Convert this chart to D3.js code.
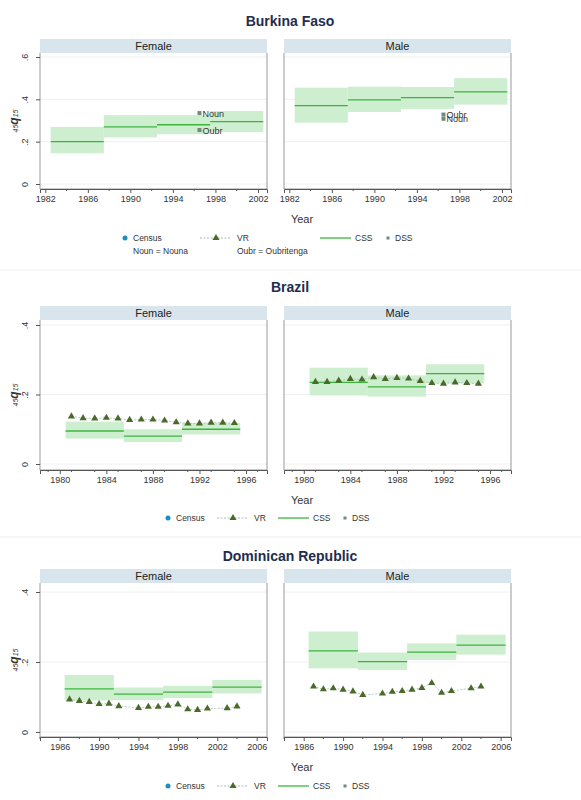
<!DOCTYPE html><html><head><meta charset="utf-8"><script src="https://cdn.jsdelivr.net/npm/d3@7"></script>
<style>body{margin:0;background:#fff;font-family:"Liberation Sans",Arial,sans-serif}</style></head><body><svg id="c" width="581" height="800"></svg>
<script>
// Burkina Faso
const bfCssF=[[1982.5,1987.5,0.2,0.145,0.27],[1987.5,1992.5,0.27,0.22,0.325],[1992.5,1997.5,0.28,0.235,0.325],[1997.5,2002.5,0.295,0.245,0.345]];
const bfCssM=[[1982.5,1987.5,0.37,0.29,0.455],[1987.5,1992.5,0.397,0.34,0.46],[1992.5,1997.5,0.408,0.355,0.458],[1997.5,2002.5,0.435,0.375,0.5]];
const bfDssF=[[1996.5,0.335,"Noun"],[1996.5,0.255,"Oubr"]];
const bfDssM=[[1996.5,0.328,"Oubr"],[1996.5,0.308,"Noun"]];
// Brazil
const brCssF=[[1980.5,1985.5,0.095,0.073,0.122],[1985.5,1990.5,0.08,0.063,0.1],[1990.5,1995.5,0.1,0.085,0.118]];
const brCssM=[[1980.5,1985.5,0.235,0.197,0.277],[1985.5,1990.5,0.222,0.194,0.255],[1990.5,1995.5,0.26,0.232,0.287]];
const brYears=[1981,1982,1983,1984,1985,1986,1987,1988,1989,1990,1991,1992,1993,1994,1995];
const brVrF=[.137,.132,.131,.133,.131,.127,.128,.128,.125,.12,.117,.117,.119,.119,.118];
const brVrM=[.236,.236,.24,.245,.243,.25,.245,.248,.246,.239,.233,.231,.235,.233,.231];
// Dominican Republic
const drCssF=[[1986.5,1991.5,0.123,0.09,0.163],[1991.5,1996.5,0.108,0.091,0.127],[1996.5,2001.5,0.114,0.097,0.132],[2001.5,2006.5,0.128,0.11,0.149]];
const drCssM=[[1986.5,1991.5,0.232,0.182,0.287],[1991.5,1996.5,0.201,0.177,0.227],[1996.5,2001.5,0.228,0.206,0.253],[2001.5,2006.5,0.248,0.221,0.278]];
const drYears=[1987,1988,1989,1990,1991,1992,1994,1995,1996,1997,1998,1999,2000,2001,2003,2004];
const drVrF=[.093,.089,.086,.08,.081,.074,.069,.072,.072,.075,.079,.065,.063,.067,.068,.073];
const drVrM=[.13,.122,.125,.121,.116,.106,.11,.115,.117,.121,.126,.14,.112,.117,.125,.13];

const svg=d3.select("#c");
const panels=[
 {title:"Burkina Faso",ty:21,top:53,y0:184,y1:57,ymax:0.6,yt:[0,.2,.4,.6],xd:[1981.5,2002.85],xt:[1982,1986,1990,1994,1998,2002],bot:189,
  F:{css:bfCssF,dss:bfDssF},M:{css:bfCssM,dss:bfDssM},yearY:219,legY:238,note:true},
 {title:"Brazil",ty:287,top:320,y0:464,y1:325,ymax:0.4,yt:[0,.2,.4],xd:[1978.3,1997.8],xt:[1980,1984,1988,1992,1996],bot:470,
  F:{css:brCssF,vy:brYears,vr:brVrF},M:{css:brCssM,vy:brYears,vr:brVrM},yearY:500,legY:518,sep:270},
 {title:"Dominican Republic",ty:556,top:583,y0:732,y1:592,ymax:0.4,yt:[0,.2,.4],xd:[1984,2007.05],xt:[1986,1990,1994,1998,2002,2006],bot:737,
  F:{css:drCssF,vy:drYears,vr:drVrF},M:{css:drCssM,vy:drYears,vr:drVrM},yearY:767,legY:786,sep:537}
];
const cols=[[40,267,"Female","F"],[284,511,"Male","M"]];
panels.forEach(p=>{
 if(p.sep) svg.append("line").attr("x1",0).attr("x2",581).attr("y1",p.sep).attr("y2",p.sep).attr("stroke","#eee");
 svg.append("text").attr("x",290).attr("y",p.ty+5).attr("text-anchor","middle").attr("font-weight","bold").attr("font-size",14).attr("fill","#1e2d4f").text(p.title);
 const y=d3.scaleLinear().domain([0,p.ymax]).range([p.y0,p.y1]);
 cols.forEach(([l,r,name,k])=>{
  const d=p[k];
  const x=d3.scaleLinear().domain(p.xd).range([l,r]);
  svg.append("rect").attr("x",l).attr("y",p.top-14).attr("width",r-l).attr("height",14).attr("fill","#d9e5ec");
  svg.append("text").attr("x",(l+r)/2).attr("y",p.top-3).attr("text-anchor","middle").attr("font-size",11).attr("fill","#222").text(name);
  p.yt.forEach(t=>svg.append("line").attr("x1",l).attr("x2",r).attr("y1",y(t)).attr("y2",y(t)).attr("stroke","#f0f0f0"));
  d.css.forEach(c=>{
   svg.append("rect").attr("x",x(c[0])).attr("width",x(c[1])-x(c[0])).attr("y",y(c[4])).attr("height",y(c[3])-y(c[4])).attr("fill","#cdeecf");
  });
  d.css.forEach(c=>svg.append("line").attr("x1",x(c[0])).attr("x2",x(c[1])).attr("y1",y(c[2])).attr("y2",y(c[2])).attr("stroke","#3cb43c").attr("stroke-width",1.3));
  if(d.vr){
   const pts=d.vy.map((v,i)=>[v,d.vr[i]]);
   svg.append("path").attr("d",d3.line().x(e=>x(e[0])).y(e=>y(e[1]))(pts)).attr("fill","none").attr("stroke","#aab8b8").attr("stroke-width",0.8).attr("stroke-dasharray","2,1.5");
   pts.forEach(e=>svg.append("path").attr("d",d3.symbol(d3.symbolTriangle,22)()).attr("transform",`translate(${x(e[0])},${y(e[1])})`).attr("fill","#4a6a2a"));
  }
  if(d.dss){
   d.dss.forEach(e=>{
    svg.append("rect").attr("x",x(e[0])-2).attr("y",y(e[1])-2).attr("width",4).attr("height",4).attr("fill","#6f8a80");
    svg.append("text").attr("x",x(e[0])+3).attr("y",y(e[1])+3.5).attr("font-size",9).attr("fill","#333").text(e[2]);
   });
  }
  svg.append("path").attr("d",`M${l},${p.top}V${p.bot}H${r}V${p.top}`).attr("fill","none").attr("stroke","#999");
  const ax=svg.append("g").attr("transform",`translate(0,${p.bot})`).call(d3.axisBottom(x).tickValues(p.xt).tickFormat(d3.format("d")).tickSize(4));
  const minor=d3.range(Math.ceil(p.xd[0]),p.xd[1],2).filter(v=>!p.xt.includes(v));
  minor.forEach(v=>svg.append("line").attr("x1",x(v)).attr("x2",x(v)).attr("y1",p.bot).attr("y2",p.bot+2).attr("stroke","#555"));
  ax.select(".domain").attr("stroke","#555");ax.selectAll("line").attr("stroke","#555");
  ax.selectAll("text").attr("font-size",9).attr("fill","#333").attr("font-family","Liberation Sans, Arial");
  if(k==="F"){
   const ay=svg.append("g").attr("transform",`translate(${l},0)`).call(d3.axisLeft(y).tickValues(p.yt).tickFormat(t=>t===0?"0":d3.format(".1f")(t).replace("0.",".")).tickSize(4));
   ay.select(".domain").remove();ay.selectAll("line").attr("stroke","#555");
   ay.selectAll("text").attr("font-size",9).attr("fill","#333").attr("font-family","Liberation Sans, Arial").attr("text-anchor","middle").attr("transform","translate(-3,0) rotate(-90)").attr("x",0).attr("dy","-0.3em").attr("y",-6);
   const cy=(p.top+p.bot)/2;
   const t=svg.append("text").attr("transform",`translate(18,${cy}) rotate(-90)`).attr("text-anchor","middle").attr("fill","#333");
   t.append("tspan").attr("font-size",7).attr("font-style","italic").text("45");
   t.append("tspan").attr("font-size",12).attr("font-style","italic").attr("font-weight","bold").text("q");
   t.append("tspan").attr("font-size",7).attr("font-style","italic").text("15");
  }
 });
 svg.append("text").attr("x",302).attr("y",p.yearY+4).attr("text-anchor","middle").attr("font-size",11).attr("fill","#333").text("Year");
 const ly=p.legY;
 const lx= p.note?[125,200,320,388]:[168,217,278,345];
 const g=svg.append("g").attr("font-size",8.5).attr("fill","#333");
 g.append("circle").attr("cx",lx[0]).attr("cy",ly).attr("r",2.5).attr("fill","#1a8fc0");
 g.append("text").attr("x",lx[0]+8).attr("y",ly+3).text("Census");
 g.append("line").attr("x1",lx[1]).attr("x2",lx[1]+31).attr("y1",ly).attr("y2",ly).attr("stroke","#aab8b8").attr("stroke-dasharray","2,1.5");
 g.append("path").attr("d",d3.symbol(d3.symbolTriangle,22)()).attr("transform",`translate(${lx[1]+16},${ly})`).attr("fill","#4a6a2a");
 g.append("text").attr("x",lx[1]+37).attr("y",ly+3).text("VR");
 g.append("line").attr("x1",lx[2]).attr("x2",lx[2]+31).attr("y1",ly).attr("y2",ly).attr("stroke","#3cb43c").attr("stroke-width",1.3);
 g.append("text").attr("x",lx[2]+35).attr("y",ly+3).text("CSS");
 g.append("rect").attr("x",lx[3]-1.5).attr("y",ly-1.5).attr("width",3).attr("height",3).attr("fill","#6f8a80");
 g.append("text").attr("x",lx[3]+7).attr("y",ly+3).text("DSS");
 if(p.note){
  g.append("text").attr("x",133).attr("y",254).text("Noun = Nouna");
  g.append("text").attr("x",237).attr("y",254).text("Oubr = Oubritenga");
 }
});
</script></body></html>
